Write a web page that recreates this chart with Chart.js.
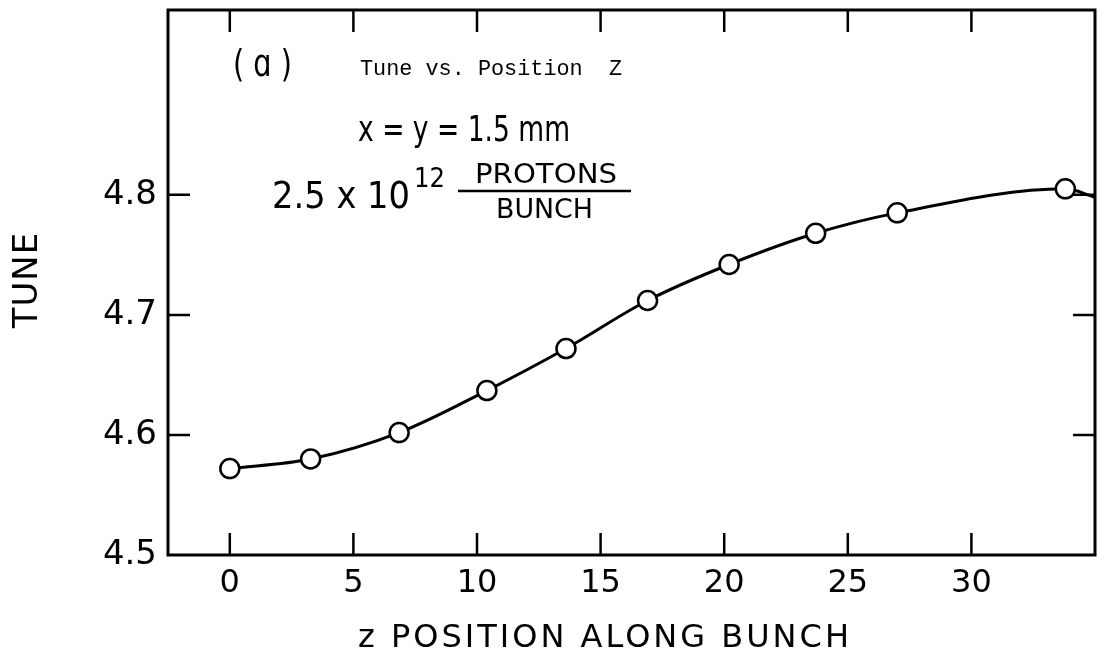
<!DOCTYPE html>
<html>
<head>
<meta charset="utf-8">
<script src="https://cdn.jsdelivr.net/npm/chart.js@4.4.1/dist/chart.umd.min.js"></script>
<style>
  body { margin: 0; background: #fff; }
  #wrap { width: 1099px; height: 656px; }
</style>
</head>
<body>
<div id="wrap"><canvas id="tuneChart" width="1099" height="656"></canvas></div>
<script>
// measured points, z position vs tune
const zPos = [0, 3.27, 6.85, 10.4, 13.6, 16.9, 20.2, 23.7, 27.0, 33.8];
const tune = [4.572, 4.580, 4.602, 4.637, 4.672, 4.712, 4.742, 4.768, 4.785, 4.805];
// the drawn curve carries on a bit past the last point
const tailZ = [35.0];
const tailTune = [4.798];

const xTicks = [0, 5, 10, 15, 20, 25, 30];
const yTicks = [4.5, 4.6, 4.7, 4.8];

const curveZ = zPos.concat(tailZ);
const curveTune = tune.concat(tailTune);

// squeeze text horizontally so it fits the given width
function drawFit(ctx, text, x, baseline, width, font) {
  ctx.save();
  ctx.font = font;
  const w = ctx.measureText(text).width;
  ctx.translate(x, baseline);
  ctx.scale(width / w, 1);
  ctx.textAlign = 'left';
  ctx.textBaseline = 'alphabetic';
  ctx.fillText(text, 0, 0);
  ctx.restore();
}

const framePlugin = {
  id: 'frame',
  afterDraw(chart) {
    const ctx = chart.ctx;
    const a = chart.chartArea;
    const xs = chart.scales.x;
    const ys = chart.scales.y;
    ctx.save();
    ctx.strokeStyle = '#000';
    ctx.fillStyle = '#000';

    // box
    ctx.lineWidth = 3;
    ctx.strokeRect(a.left, a.top, a.right - a.left, a.bottom - a.top);

    // inward ticks
    ctx.lineWidth = 2.5;
    const len = 22;
    xTicks.forEach(v => {
      const px = xs.getPixelForValue(v);
      ctx.beginPath();
      ctx.moveTo(px, a.bottom); ctx.lineTo(px, a.bottom - len);
      ctx.moveTo(px, a.top); ctx.lineTo(px, a.top + len);
      ctx.stroke();
    });
    yTicks.slice(1).forEach(v => {
      const py = ys.getPixelForValue(v);
      ctx.beginPath();
      ctx.moveTo(a.left, py); ctx.lineTo(a.left + len, py);
      ctx.moveTo(a.right, py); ctx.lineTo(a.right - len, py);
      ctx.stroke();
    });

    // axis titles
    ctx.font = '32px "DejaVu Sans"';
    ctx.textAlign = 'center';
    ctx.textBaseline = 'middle';
    ctx.letterSpacing = '3px';
    ctx.fillText('z POSITION ALONG BUNCH', 605, 639);
    ctx.save();
    ctx.translate(28, 280);
    ctx.rotate(-Math.PI / 2);
    ctx.font = '34px "DejaVu Sans"';
    ctx.letterSpacing = '1px';
    ctx.fillText('TUNE', 0, 0);
    ctx.restore();
    ctx.letterSpacing = '0px';

    // annotations
    drawFit(ctx, '( ɑ )', 233, 76, 59, '38px "DejaVu Sans"');
    drawFit(ctx, 'Tune vs. Position  Z', 360, 75, 262, '22px "Liberation Mono", monospace');
    drawFit(ctx, 'x = y = 1.5 mm', 358, 141, 212, '36px "DejaVu Sans"');
    drawFit(ctx, '2.5 x 10', 272, 208, 138, '38px "DejaVu Sans"');
    drawFit(ctx, '12', 414, 187, 31, '26px "DejaVu Sans"');
    drawFit(ctx, 'PROTONS', 475, 183, 142, '26px "DejaVu Sans"');
    drawFit(ctx, 'BUNCH', 496, 218, 97, '27px "DejaVu Sans"');
    ctx.lineWidth = 2.5;
    ctx.beginPath();
    ctx.moveTo(458, 191); ctx.lineTo(631, 191);
    ctx.stroke();

    ctx.restore();
  }
};

new Chart(document.getElementById('tuneChart'), {
  type: 'scatter',
  data: {
    datasets: [
      {
        label: 'curve',
        data: curveZ.map((z, i) => ({ x: z, y: curveTune[i] })),
        showLine: true,
        borderColor: '#000',
        borderWidth: 3,
        cubicInterpolationMode: 'monotone',
        pointRadius: 0,
        order: 2
      },
      {
        label: 'Tune',
        data: zPos.map((z, i) => ({ x: z, y: tune[i] })),
        showLine: false,
        pointRadius: 9.5,
        pointBorderWidth: 2.5,
        pointBorderColor: '#000',
        pointBackgroundColor: '#fff',
        order: 1
      }
    ]
  },
  options: {
    responsive: false,
    animation: false,
    layout: { autoPadding: false, padding: { left: 0, right: 4, top: 10, bottom: 0 } },
    plugins: {
      legend: { display: false },
      tooltip: { enabled: false }
    },
    scales: {
      x: {
        type: 'linear',
        min: -2.5,
        max: 35.0,
        grid: { display: false, drawTicks: false },
        border: { display: false },
        afterBuildTicks: s => { s.ticks = xTicks.map(v => ({ value: v })); },
        afterFit: s => { s.height = 101; s.paddingLeft = 0; s.paddingRight = 0; },
        ticks: {
          padding: 9,
          color: '#000',
          font: { family: 'DejaVu Sans', size: 32 },
          maxRotation: 0
        }
      },
      y: {
        type: 'linear',
        min: 4.5,
        max: 4.954,
        grid: { display: false, drawTicks: false },
        border: { display: false },
        afterBuildTicks: s => { s.ticks = yTicks.map(v => ({ value: v })); },
        afterFit: s => { s.width = 168; s.paddingTop = 0; s.paddingBottom = 0; },
        ticks: {
          padding: 11,
          color: '#000',
          font: { family: 'DejaVu Sans', size: 34 },
          callback: v => v.toFixed(1)
        }
      }
    }
  },
  plugins: [framePlugin]
});
</script>
</body>
</html>
